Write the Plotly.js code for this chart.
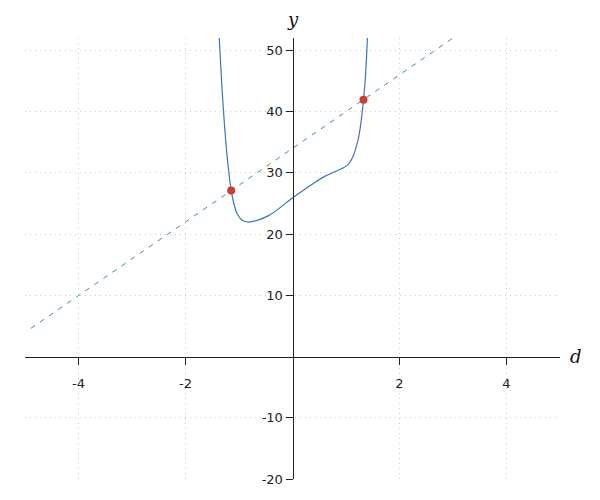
<!DOCTYPE html>
<html>
<head>
<meta charset="utf-8">
<script src="https://cdn.plot.ly/plotly-3.0.1.min.js"></script>
<style>html,body{margin:0;padding:0;background:#fff}#chart{width:600px;height:500px}</style>
</head>
<body>
<div id="chart"></div>
<script>
const curveD = [-1.385, -1.37, -1.32, -1.27, -1.226, -1.18, -1.146, -1.10, -1.04, -0.946, -0.82, -0.636, -0.449, -0.262, -0.075, 0.05, 0.237, 0.424, 0.611, 0.798, 0.953, 1.047, 1.14, 1.20, 1.234, 1.265, 1.297, 1.327, 1.359, 1.39, 1.405];
const curveY = [54.8, 52.1, 44.1, 37.6, 33.0, 29.3, 27.1, 25.1, 23.4, 22.3, 21.95, 22.3, 23.0, 24.1, 25.4, 26.2, 27.35, 28.45, 29.45, 30.2, 30.8, 31.4, 32.8, 34.5, 35.7, 37.3, 39.4, 41.9, 45.1, 50, 53];
const lineD = [-4.89, 3.0];
const lineY = [4.6, 52.0];
const pointD = [-1.146, 1.327];
const pointY = [27.1, 41.9];
const xTicks = [-4, -2, 2, 4];
const yTicks = [-20, -10, 10, 20, 30, 40, 50];

const traces = [
  {x: curveD, y: curveY, mode: 'lines', line: {color: '#3b74bf', width: 1.2, shape: 'spline', smoothing: 0.6}, hoverinfo: 'skip'},
  {x: lineD, y: lineY, mode: 'lines', line: {color: '#3d9a5c', width: 1, dash: '5px,6px'}, hoverinfo: 'skip'},
  {x: pointD, y: pointY, mode: 'markers', marker: {color: '#d03a2f', size: 8}, hoverinfo: 'skip'}
];

const xr = [-5, 5], yr = [-20, 52];
const axisCommon = {
  showline: true, linecolor: '#222', linewidth: 1,
  ticks: 'outside', ticklen: 7, tickcolor: '#222', tickwidth: 1,
  showgrid: true, gridcolor: '#c8c8c8', griddash: '1px,4px', gridwidth: 1,
  zeroline: false, anchor: 'free',
  tickfont: {family: 'DejaVu Sans', size: 13, color: '#222'}
};
const layout = {
  width: 600, height: 500,
  margin: {l: 25, r: 40, t: 38, b: 21},
  paper_bgcolor: '#fff', plot_bgcolor: '#fff',
  showlegend: false,
  font: {family: 'DejaVu Sans', size: 13, color: '#222'},
  xaxis: Object.assign({}, axisCommon, {
    range: xr, tickvals: xTicks, ticktext: xTicks.map(String),
    position: (0 - yr[0]) / (yr[1] - yr[0]), ticklabelstandoff: 8
  }),
  yaxis: Object.assign({}, axisCommon, {
    range: yr, tickvals: yTicks, ticktext: yTicks.map(String),
    position: (0 - xr[0]) / (xr[1] - xr[0])
  }),
  annotations: [
    {text: 'd', xref: 'paper', yref: 'paper', x: 1.0, y: (0 - yr[0]) / (yr[1] - yr[0]), xanchor: 'left', yanchor: 'middle', xshift: 8, showarrow: false,
     font: {family: 'DejaVu Serif', size: 18, color: '#111', style: 'italic'}},
    {text: 'y', xref: 'paper', yref: 'paper', x: 0.5, y: 1.0, xanchor: 'center', yanchor: 'bottom', yshift: 6, showarrow: false,
     font: {family: 'DejaVu Serif', size: 18, color: '#111', style: 'italic'}}
  ]
};
Plotly.newPlot('chart', traces, layout, {displayModeBar: false, staticPlot: true});
</script>
</body>
</html>
